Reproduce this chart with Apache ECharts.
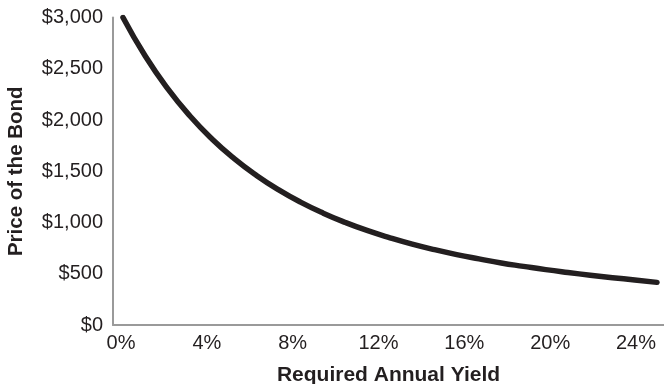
<!DOCTYPE html>
<html>
<head>
<meta charset="utf-8">
<script src="https://cdn.jsdelivr.net/npm/echarts@6/dist/echarts.min.js"></script>
<style>
html,body{margin:0;padding:0;background:#fff;}
#chart{width:664px;height:384px;}
</style>
</head>
<body>
<div id="chart"></div>
<script>
// Data
const yields = [0, 1, 2, 3, 4, 5, 6, 7, 8, 9, 10, 11, 12, 13, 14, 15, 16, 17, 18, 19, 20, 21, 22, 23, 24];
const prices = [3000, 2624, 2308, 2041, 1815, 1623, 1459, 1318, 1196, 1091, 1000, 920, 851, 789, 735, 687, 645, 605, 572, 540, 512, 486, 462, 440, 416];
const xTicks = [0, 4, 8, 12, 16, 20, 24];
const yTicks = [0, 500, 1000, 1500, 2000, 2500, 3000];

const FONT = '"Liberation Sans", Arial, Helvetica, sans-serif';
const chart = echarts.init(document.getElementById('chart'));
chart.setOption({
  animation: false,
  backgroundColor: '#fff',
  grid: { left: 113, right: 0, top: 17.5, bottom: 59, containLabel: false, outerBoundsMode: 'none' },
  xAxis: [
    {
      type: 'value', min: -0.449, max: 24.315, show: false
    },
    {
      type: 'value', position: 'bottom', min: -0.373, max: 25.305,
      axisLine: { show: true, onZero: false, lineStyle: { color: '#9a9a9a', width: 2 } },
      axisTick: { show: false },
      splitLine: { show: false },
      axisLabel: {
        customValues: xTicks,
        formatter: v => v + '%',
        color: '#231f20', fontSize: 20, fontFamily: FONT, margin: 8
      },
      name: 'Required Annual Yield', nameLocation: 'middle', nameGap: 40,
      nameTextStyle: { color: '#231f20', fontSize: 21, fontWeight: 'bold', fontFamily: FONT }
    }
  ],
  yAxis: {
    type: 'value', min: 0, max: 3000, interval: 500,
    axisLine: { show: true, onZero: false, lineStyle: { color: '#9a9a9a', width: 2 } },
    axisTick: { show: false },
    splitLine: { show: false },
    axisLabel: {
      customValues: yTicks,
      formatter: v => '$' + v.toLocaleString('en-US'),
      color: '#231f20', fontSize: 20, fontFamily: FONT, margin: 10
    },
    name: 'Price of the Bond', nameLocation: 'middle', nameGap: 86,
    nameTextStyle: { color: '#231f20', fontSize: 20.5, fontWeight: 'bold', fontFamily: FONT }
  },
  series: [{
    type: 'line',
    xAxisIndex: 0,
    data: yields.map((x, i) => [x, prices[i]]),
    smooth: true,
    showSymbol: false,
    lineStyle: { color: '#231f20', width: 5.5, cap: 'round', join: 'round' }
  }]
});
</script>
</body>
</html>
